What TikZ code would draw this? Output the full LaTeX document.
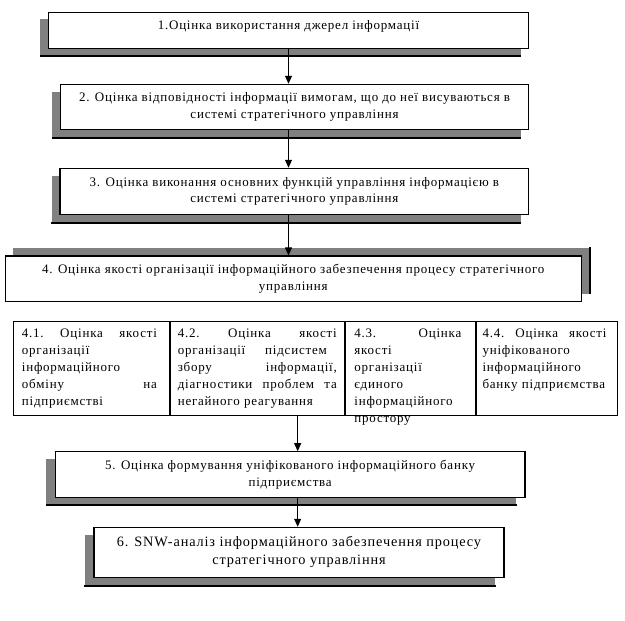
\documentclass[tikz,border=0pt]{standalone}
\usepackage{fontspec}
\setmainfont[LetterSpace=6]{Liberation Serif}
\usetikzlibrary{arrows.meta,calc,shadows}
\definecolor{shadowc}{RGB}{128,128,128}
\newcommand\jl[2]{\leavevmode\hbox to #1{#2}}
\begin{document}
\begin{tikzpicture}[x=1pt,y=-1pt,
  box/.style={draw, fill=white, line width=1.1pt, inner sep=0pt, align=center,
    font=\fontsize{13}{16.5}\selectfont},
  shd/.style 2 args={drop shadow={shadow xshift=#1pt, shadow yshift=#2pt, fill=shadowc, opacity=1}},
  cell/.style={draw, line width=1.1pt, inner sep=0pt, anchor=north west},
  celltext/.style={inner sep=0pt, anchor=north west, align=left,
    font=\fontsize{13}{17}\selectfont},
  arr/.style={line width=0.9pt, -{Triangle[length=8pt,width=7pt]}},
  sline/.style={line width=1.3pt}
]
\useasboundingbox (0,0) rectangle (625,621);

\node[box, shd={-8}{-7}, minimum width=480.4pt, minimum height=36pt] (b1) at (288.5,30.3)
  {\raisebox{4pt}[\height][\depth]{1.Оцінка використання джерел інформації}};
\node[box, shd={-8}{-8}, minimum width=468.4pt, minimum height=45pt] (b2) at (294.5,106.8)
  {2. Оцінка відповідності інформації вимогам, що до неї висуваються в\\системі стратегічного управління};
\node[box, shd={-8}{-8}, minimum width=468.7pt, minimum height=46pt] (b3) at (294.35,191.3)
  {3. Оцінка виконання основних функцій управління інформацією в\\системі стратегічного управління};
\node[box, shd={8}{8}, minimum width=576pt, minimum height=45.7pt] (b4) at (293.3,278.85)
  {4. Оцінка якості організації інформаційного забезпечення процесу стратегічного\\управління};
\node[box, shd={-9}{-7}, minimum width=469.7pt, minimum height=45.6pt] (b5) at (290.15,474.5)
  {5. Оцінка формування уніфікованого інформаційного банку\\підприємства};
\node[box, shd={-9}{-8}, minimum width=410pt, minimum height=50pt,
  font=\fontsize{14.3}{18}\selectfont] (b6) at (299,552.3)
  {6. SNW-аналіз інформаційного забезпечення процесу\\стратегічного управління};

% dark outer edges of shadows
\draw[sline] ($(b1.south west)+(-8,7)$) -- ($(b1.south east)+(-8,7)$);
\draw[sline] ($(b2.south west)+(-8,8)$) -- ($(b2.south east)+(-8,8)$);
\draw[sline] ($(b3.south west)+(-8,8)$) -- ($(b3.south east)+(-8,8)$);
\draw[sline] ($(b4.north east)+(8,-8)$) -- ($(b4.south east)+(8,-8)$);
\draw[sline] ($(b5.south west)+(-9,7)$) -- ($(b5.south east)+(-9,7)$);
\draw[sline] ($(b6.south west)+(-9,8)$) -- ($(b6.south east)+(-9,8)$);

% table of sub-items
\node[cell, minimum width=155.8pt, minimum height=94.3pt] (c1) at (12.7,320.7) {};
\node[cell, minimum width=174pt, minimum height=94.3pt] (c2) at (c1.north east) {};
\node[cell, minimum width=129.8pt, minimum height=94.3pt] (c3) at (c2.north east) {};
\node[cell, minimum width=141.4pt, minimum height=94.3pt] (c4) at (c3.north east) {};

\node[celltext, text width=136pt] (t1) at ($(c1.north west)+(9,7.5)$)
  {\jl{135pt}{4.1.\hfill Оцінка\hfill якості}\\організації\\інформаційного\\\jl{135pt}{обміну\hfill на}\\підприємстві};
\node[celltext, text width=160pt] (t2) at ($(c2.north west)+(8,7.5)$)
  {\jl{159pt}{4.2.\hfill Оцінка\hfill якості}\\\jl{149pt}{організації\hfill підсистем}\\\jl{159pt}{збору\hfill інформації,}\\\jl{159pt}{діагностики\hfill проблем\hfill та}\\негайного реагування};
\node[celltext, text width=108pt] (t3) at ($(c3.north west)+(9.5,7.5)$)
  {\jl{107pt}{4.3.\hfill Оцінка}\\якості\\організації\\єдиного\\інформаційного\\простору};
\node[celltext, text width=128pt] (t4) at ($(c4.north west)+(6.7,7.5)$)
  {\jl{124pt}{4.4.\hfill Оцінка\hfill якості}\\уніфікованого\\інформаційного\\банку підприємства};

% connectors
\draw[arr] (b1.south) -- (b1.south |- b2.north);
\draw[arr] (b1.south |- b2.south) -- (b1.south |- b3.north);
\draw[arr] (b1.south |- b3.south) -- (b1.south |- b4.north);
\coordinate (tx) at ($(c2.south)+(40.5,0)$);
\draw[arr] (tx) -- (tx |- b5.north);
\draw[arr] (tx |- b5.south) -- (tx |- b6.north);
\end{tikzpicture}
\end{document}
